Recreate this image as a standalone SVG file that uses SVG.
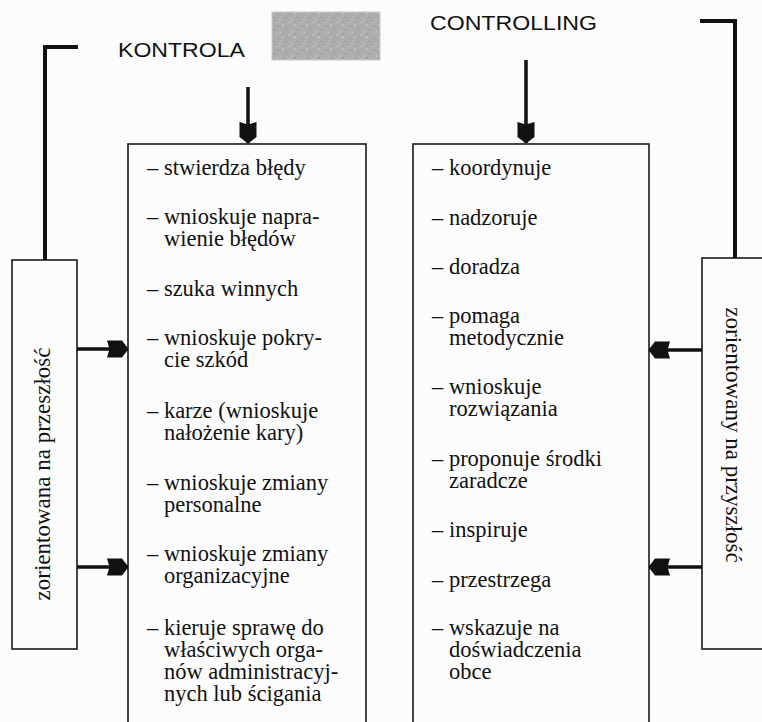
<svg xmlns="http://www.w3.org/2000/svg" width="762" height="722" viewBox="0 0 762 722">
  <style>
    .bg { fill: #fcfcfc; }
    .box { fill: none; stroke: #1a1a1a; stroke-width: 1.6; }
    .item { font-family: "Liberation Serif", "Times New Roman", serif; font-size: 22.5px; fill: #111; }
    .title { font-family: "Liberation Sans", Arial, sans-serif; font-size: 20px; fill: #111; }
    .side { font-family: "Liberation Serif", "Times New Roman", serif; font-size: 23px; fill: #111; text-anchor: middle; }
    .conn { fill: none; stroke: #111; stroke-width: 3.5; }
    .bracket { fill: none; stroke: #111; stroke-width: 4; stroke-linejoin: miter; }
  </style>
  <defs>
    <marker id="head" viewBox="0 0 22 18" refX="21" refY="9" markerWidth="22" markerHeight="18" markerUnits="userSpaceOnUse" orient="auto">
      <path d="M0,0.5 L15,0.5 L21.5,9 L15,17.5 L0,17.5 L2.5,9 Z" fill="#111"/>
    </marker>
    <pattern id="grain" x="0" y="0" width="12" height="12" patternUnits="userSpaceOnUse">
      <rect width="12" height="12" fill="#adadad"/>
      <rect x="1" y="2" width="2" height="1" fill="#9a9a9a"/>
      <rect x="6" y="0" width="2" height="2" fill="#c0c0c0"/>
      <rect x="9" y="5" width="2" height="1" fill="#999"/>
      <rect x="3" y="7" width="2" height="2" fill="#bdbdbd"/>
      <rect x="7" y="9" width="1" height="2" fill="#9c9c9c"/>
      <rect x="0" y="10" width="2" height="1" fill="#c2c2c2"/>
    </pattern>
  </defs>
  <rect class="bg" x="0" y="0" width="762" height="722"/>

  <g id="gray-box">
    <rect x="272" y="12" width="108" height="48" fill="url(#grain)" stroke="#c8c8c8" stroke-width="1"/>
  </g>

  <g id="kontrola-label">
    <text class="title" x="118" y="57" textLength="127" lengthAdjust="spacingAndGlyphs">KONTROLA</text>
  </g>
  <g id="controlling-label">
    <text class="title" x="430" y="30" textLength="167" lengthAdjust="spacingAndGlyphs">CONTROLLING</text>
  </g>

  <g id="kontrola-box">
    <rect class="box" x="128" y="144" width="238" height="600"/>
    <text class="item">
      <tspan x="147" y="175">– stwierdza błędy</tspan>
      <tspan x="147" y="224">– wnioskuje napra-</tspan>
      <tspan x="164" y="246">wienie błędów</tspan>
      <tspan x="147" y="296">– szuka winnych</tspan>
      <tspan x="147" y="345">– wnioskuje pokry-</tspan>
      <tspan x="164" y="367">cie szkód</tspan>
      <tspan x="147" y="418">– karze (wnioskuje</tspan>
      <tspan x="164" y="440">nałożenie kary)</tspan>
      <tspan x="147" y="490">– wnioskuje zmiany</tspan>
      <tspan x="164" y="512">personalne</tspan>
      <tspan x="147" y="561">– wnioskuje zmiany</tspan>
      <tspan x="164" y="583">organizacyjne</tspan>
      <tspan x="147" y="635">– kieruje sprawę do</tspan>
      <tspan x="164" y="657">właściwych orga-</tspan>
      <tspan x="164" y="679">nów administracyj-</tspan>
      <tspan x="164" y="701">nych lub ścigania</tspan>
    </text>
  </g>

  <g id="controlling-box">
    <rect class="box" x="413" y="144" width="236" height="600"/>
    <text class="item">
      <tspan x="432" y="175">– koordynuje</tspan>
      <tspan x="432" y="225">– nadzoruje</tspan>
      <tspan x="432" y="274">– doradza</tspan>
      <tspan x="432" y="323">– pomaga</tspan>
      <tspan x="449" y="345">metodycznie</tspan>
      <tspan x="432" y="394">– wnioskuje</tspan>
      <tspan x="449" y="416">rozwiązania</tspan>
      <tspan x="432" y="466">– proponuje środki</tspan>
      <tspan x="449" y="488">zaradcze</tspan>
      <tspan x="432" y="537">– inspiruje</tspan>
      <tspan x="432" y="587">– przestrzega</tspan>
      <tspan x="432" y="635">– wskazuje na</tspan>
      <tspan x="449" y="657">doświadczenia</tspan>
      <tspan x="449" y="679">obce</tspan>
    </text>
  </g>

  <g id="past-box">
    <rect class="box" x="12" y="260" width="65" height="389"/>
    <text class="side" transform="translate(50,474) rotate(-90)">zorientowana na przeszłość</text>
  </g>

  <g id="future-box">
    <rect class="box" x="702" y="258" width="80" height="391"/>
    <text class="side" transform="translate(726,435) rotate(90)">zorientowany na przyszłość</text>
  </g>

  <g id="connectors">
    <polyline class="bracket" points="78,47 45,47 45,260"/>
    <polyline class="bracket" points="700,21 735,21 735,258"/>
    <line class="conn" x1="248" y1="87" x2="248" y2="143" marker-end="url(#head)"/>
    <line class="conn" x1="526" y1="60" x2="526" y2="143" marker-end="url(#head)"/>
    <line class="conn" x1="77" y1="349" x2="128" y2="349" marker-end="url(#head)"/>
    <line class="conn" x1="77" y1="567" x2="128" y2="567" marker-end="url(#head)"/>
    <line class="conn" x1="702" y1="350" x2="649" y2="350" marker-end="url(#head)"/>
    <line class="conn" x1="702" y1="567" x2="649" y2="567" marker-end="url(#head)"/>
  </g>
</svg>
